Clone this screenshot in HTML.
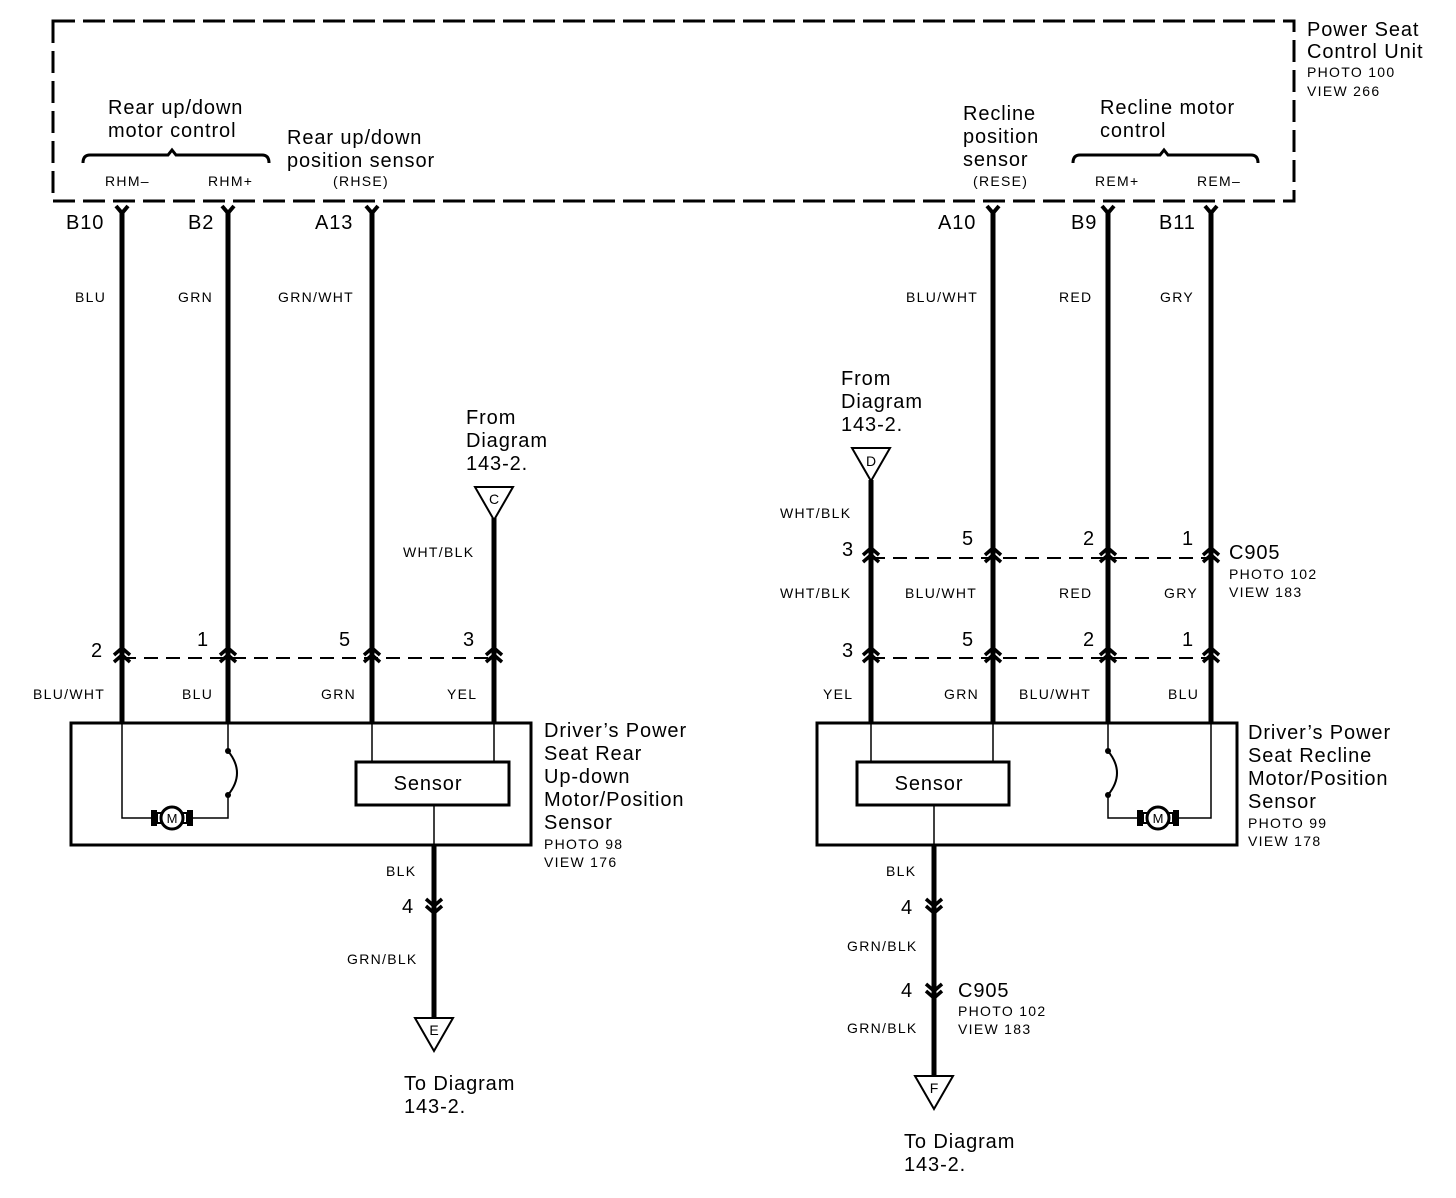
<!DOCTYPE html>
<html><head><meta charset="utf-8"><style>
html,body{margin:0;padding:0;background:#fff;}
svg{display:block;}
text{font-family:"Liberation Sans",Arial,sans-serif;fill:#000;}
.b{font-size:20px;letter-spacing:0.9px;}
.s{font-size:14px;letter-spacing:1.3px;}
</style></head><body>
<svg width="1456" height="1198" viewBox="0 0 1456 1198" xmlns="http://www.w3.org/2000/svg">
<defs>
<g id="cu"><path d="M-8,-3 L0,-10 L8,-3 M-8,4 L0,-3 L8,4" fill="none" stroke="#000" stroke-width="3.5"/></g>
<g id="cd"><path d="M-8,-7 L0,0 L8,-7 M-8,0 L0,7 L8,0" fill="none" stroke="#000" stroke-width="3.5"/></g>
<g id="yt"><path d="M-6,206 L0,213 L6,206" fill="none" stroke="#000" stroke-width="4"/></g>
<g id="mot"><rect x="-21" y="-8" width="6" height="16" fill="#000"/><rect x="15" y="-8" width="6" height="16" fill="#000"/><rect x="-15" y="-5" width="4" height="10" fill="none" stroke="#000" stroke-width="2"/><rect x="11" y="-5" width="4" height="10" fill="none" stroke="#000" stroke-width="2"/><circle r="11" fill="#fff" stroke="#000" stroke-width="3"/><text x="0" y="5" text-anchor="middle" style="font-size:13px">M</text></g>
</defs>

<rect x="53" y="21" width="1241" height="180" fill="none" stroke="#000" stroke-width="3" stroke-dasharray="22,8"/>
<text class="b" x="1307" y="36">Power Seat</text>
<text class="b" x="1307" y="58">Control Unit</text>
<text class="s" x="1307" y="77">PHOTO 100</text>
<text class="s" x="1307" y="96">VIEW 266</text>

<text class="b" x="108" y="114">Rear up/down</text>
<text class="b" x="108" y="137">motor control</text>
<path d="M83,163 Q83,155 90,155 L168,155 L172,150 L176,155 L262,155 Q269,155 269,163" fill="none" stroke="#000" stroke-width="3"/>
<text class="s" x="105" y="186">RHM–</text>
<text class="s" x="208" y="186">RHM+</text>
<text class="b" x="287" y="144">Rear up/down</text>
<text class="b" x="287" y="167">position sensor</text>
<text class="s" x="333" y="186">(RHSE)</text>

<text class="b" x="963" y="120">Recline</text>
<text class="b" x="963" y="143">position</text>
<text class="b" x="963" y="166">sensor</text>
<text class="s" x="973" y="186">(RESE)</text>
<text class="b" x="1100" y="114">Recline motor</text>
<text class="b" x="1100" y="137">control</text>
<path d="M1073,163 Q1073,155 1080,155 L1160,155 L1164,150 L1168,155 L1251,155 Q1258,155 1258,163" fill="none" stroke="#000" stroke-width="3"/>
<text class="s" x="1095" y="186">REM+</text>
<text class="s" x="1197" y="186">REM–</text>

<g stroke="#000" stroke-width="5">
<line x1="122" y1="211" x2="122" y2="722"/>
<line x1="228" y1="211" x2="228" y2="722"/>
<line x1="372" y1="211" x2="372" y2="722"/>
<line x1="494" y1="518" x2="494" y2="722"/>
<line x1="871" y1="480" x2="871" y2="722"/>
<line x1="993" y1="211" x2="993" y2="722"/>
<line x1="1108" y1="211" x2="1108" y2="722"/>
<line x1="1211" y1="211" x2="1211" y2="722"/>
<line x1="434" y1="845" x2="434" y2="1018"/>
<line x1="934" y1="845" x2="934" y2="1076"/>
</g>
<use href="#yt" x="122"/><use href="#yt" x="228"/><use href="#yt" x="372"/>
<use href="#yt" x="993"/><use href="#yt" x="1108"/><use href="#yt" x="1211"/>
<text class="b" x="66" y="229">B10</text>
<text class="b" x="188" y="229">B2</text>
<text class="b" x="315" y="229">A13</text>
<text class="b" x="938" y="229">A10</text>
<text class="b" x="1071" y="229">B9</text>
<text class="b" x="1159" y="229">B11</text>

<text class="s" x="75" y="302">BLU</text>
<text class="s" x="178" y="302">GRN</text>
<text class="s" x="278" y="302">GRN/WHT</text>
<text class="s" x="906" y="302">BLU/WHT</text>
<text class="s" x="1059" y="302">RED</text>
<text class="s" x="1160" y="302">GRY</text>

<text class="b" x="466" y="424">From</text>
<text class="b" x="466" y="447">Diagram</text>
<text class="b" x="466" y="470">143-2.</text>
<path d="M475,487 L513,487 L494,520 Z" fill="#fff" stroke="#000" stroke-width="2"/>
<text x="494" y="504" text-anchor="middle" style="font-size:14px">C</text>
<text class="s" x="403" y="557">WHT/BLK</text>

<text class="b" x="841" y="385">From</text>
<text class="b" x="841" y="408">Diagram</text>
<text class="b" x="841" y="431">143-2.</text>
<path d="M852,448 L890,448 L871,481 Z" fill="#fff" stroke="#000" stroke-width="2"/>
<text x="871" y="466" text-anchor="middle" style="font-size:14px">D</text>
<text class="s" x="780" y="518">WHT/BLK</text>

<line x1="871" y1="558" x2="1211" y2="558" stroke="#000" stroke-width="2" stroke-dasharray="14,8"/>
<use href="#cu" x="871" y="558"/><use href="#cu" x="993" y="558"/><use href="#cu" x="1108" y="558"/><use href="#cu" x="1211" y="558"/>
<text class="b" x="842" y="556">3</text>
<text class="b" x="962" y="545">5</text>
<text class="b" x="1083" y="545">2</text>
<text class="b" x="1182" y="545">1</text>
<text class="b" x="1229" y="559">C905</text>
<text class="s" x="1229" y="579">PHOTO 102</text>
<text class="s" x="1229" y="597">VIEW 183</text>
<text class="s" x="780" y="598">WHT/BLK</text>
<text class="s" x="905" y="598">BLU/WHT</text>
<text class="s" x="1059" y="598">RED</text>
<text class="s" x="1164" y="598">GRY</text>

<line x1="122" y1="658" x2="494" y2="658" stroke="#000" stroke-width="2" stroke-dasharray="14,8"/>
<line x1="871" y1="658" x2="1211" y2="658" stroke="#000" stroke-width="2" stroke-dasharray="14,8"/>
<use href="#cu" x="122" y="658"/><use href="#cu" x="228" y="658"/><use href="#cu" x="372" y="658"/><use href="#cu" x="494" y="658"/>
<use href="#cu" x="871" y="658"/><use href="#cu" x="993" y="658"/><use href="#cu" x="1108" y="658"/><use href="#cu" x="1211" y="658"/>
<text class="b" x="91" y="657">2</text>
<text class="b" x="197" y="646">1</text>
<text class="b" x="339" y="646">5</text>
<text class="b" x="463" y="646">3</text>
<text class="b" x="842" y="657">3</text>
<text class="b" x="962" y="646">5</text>
<text class="b" x="1083" y="646">2</text>
<text class="b" x="1182" y="646">1</text>

<text class="s" x="33" y="699">BLU/WHT</text>
<text class="s" x="182" y="699">BLU</text>
<text class="s" x="321" y="699">GRN</text>
<text class="s" x="447" y="699">YEL</text>
<text class="s" x="823" y="699">YEL</text>
<text class="s" x="944" y="699">GRN</text>
<text class="s" x="1019" y="699">BLU/WHT</text>
<text class="s" x="1168" y="699">BLU</text>

<rect x="71" y="723" width="460" height="122" fill="none" stroke="#000" stroke-width="3"/>
<g fill="none" stroke="#000" stroke-width="1.5">
<path d="M122,723 L122,818 L152,818"/>
<path d="M192,818 L228,818 L228,795"/>
<path d="M228,723 L228,751"/>
<path d="M228,751 Q246,773 228,795" stroke-width="2"/>
<path d="M372,723 L372,762 M494,723 L494,762 M434,805 L434,845"/>
</g>
<circle cx="228" cy="751" r="3"/><circle cx="228" cy="795" r="3"/>
<use href="#mot" x="172" y="818"/>
<rect x="356" y="762" width="153" height="43" fill="#fff" stroke="#000" stroke-width="3"/>
<text class="b" x="428" y="790" text-anchor="middle">Sensor</text>
<text class="b" x="544" y="737">Driver’s Power</text>
<text class="b" x="544" y="760">Seat Rear</text>
<text class="b" x="544" y="783">Up-down</text>
<text class="b" x="544" y="806">Motor/Position</text>
<text class="b" x="544" y="829">Sensor</text>
<text class="s" x="544" y="849">PHOTO 98</text>
<text class="s" x="544" y="867">VIEW 176</text>

<rect x="817" y="723" width="420" height="122" fill="none" stroke="#000" stroke-width="3"/>
<g fill="none" stroke="#000" stroke-width="1.5">
<path d="M871,723 L871,762 M993,723 L993,762 M934,805 L934,845"/>
<path d="M1108,723 L1108,751"/>
<path d="M1108,751 Q1126,773 1108,795" stroke-width="2"/>
<path d="M1108,795 L1108,818 L1138,818"/>
<path d="M1178,818 L1211,818 L1211,723"/>
</g>
<circle cx="1108" cy="751" r="3"/><circle cx="1108" cy="795" r="3"/>
<use href="#mot" x="1158" y="818"/>
<rect x="857" y="762" width="152" height="43" fill="#fff" stroke="#000" stroke-width="3"/>
<text class="b" x="929" y="790" text-anchor="middle">Sensor</text>
<text class="b" x="1248" y="739">Driver’s Power</text>
<text class="b" x="1248" y="762">Seat Recline</text>
<text class="b" x="1248" y="785">Motor/Position</text>
<text class="b" x="1248" y="808">Sensor</text>
<text class="s" x="1248" y="828">PHOTO 99</text>
<text class="s" x="1248" y="846">VIEW 178</text>

<text class="s" x="386" y="876">BLK</text>
<use href="#cd" x="434" y="906"/>
<text class="b" x="402" y="913">4</text>
<text class="s" x="347" y="964">GRN/BLK</text>
<path d="M415,1018 L453,1018 L434,1051 Z" fill="#fff" stroke="#000" stroke-width="2"/>
<text x="434" y="1035" text-anchor="middle" style="font-size:14px">E</text>
<text class="b" x="404" y="1090">To Diagram</text>
<text class="b" x="404" y="1113">143-2.</text>

<text class="s" x="886" y="876">BLK</text>
<use href="#cd" x="934" y="906"/>
<text class="b" x="901" y="914">4</text>
<text class="s" x="847" y="951">GRN/BLK</text>
<use href="#cd" x="934" y="991"/>
<text class="b" x="901" y="997">4</text>
<text class="b" x="958" y="997">C905</text>
<text class="s" x="958" y="1016">PHOTO 102</text>
<text class="s" x="958" y="1034">VIEW 183</text>
<text class="s" x="847" y="1033">GRN/BLK</text>
<path d="M915,1076 L953,1076 L934,1109 Z" fill="#fff" stroke="#000" stroke-width="2"/>
<text x="934" y="1093" text-anchor="middle" style="font-size:14px">F</text>
<text class="b" x="904" y="1148">To Diagram</text>
<text class="b" x="904" y="1171">143-2.</text>
</svg>
</body></html>
